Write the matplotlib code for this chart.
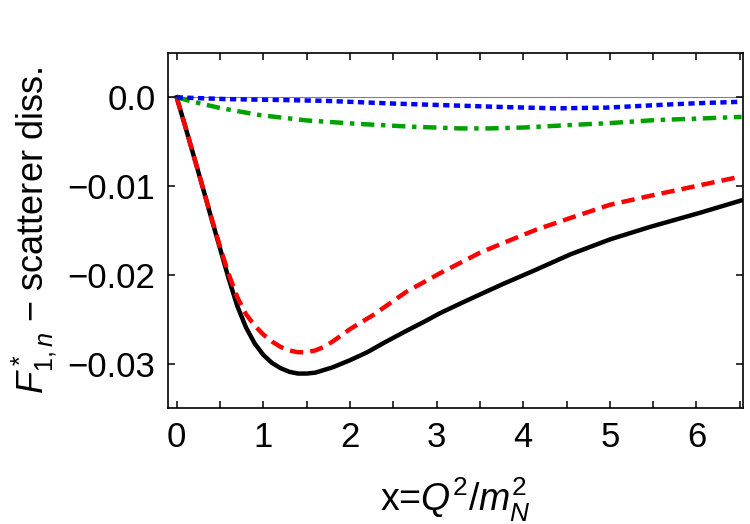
import matplotlib
matplotlib.use("Agg")
import matplotlib.pyplot as plt
from matplotlib.ticker import FixedLocator

# valeurs
x_total = [0, 0.1, 0.2, 0.3, 0.4, 0.5, 0.6, 0.7, 0.8, 0.9, 1.0, 1.1, 1.2, 1.3,
           1.4, 1.5, 1.6, 1.7, 1.8, 1.9, 2.0, 2.2, 2.4, 2.65, 2.85, 3.04, 3.3,
           3.5, 3.77, 4.15, 4.54, 5.0, 5.46, 6.04, 6.52]
y_total = [0, -0.0033, -0.0067, -0.0101, -0.0136, -0.0170, -0.0204, -0.0235,
           -0.0259, -0.0277, -0.0290, -0.0299, -0.0305, -0.0309, -0.0311,
           -0.0311, -0.0310, -0.0307, -0.0304, -0.0300, -0.0296, -0.0287,
           -0.0276, -0.0263, -0.0253, -0.0243, -0.0231, -0.0222, -0.0210,
           -0.0194, -0.0177, -0.0160, -0.0146, -0.0130, -0.0116]

x_red = [0, 0.1, 0.2, 0.3, 0.4, 0.5, 0.6, 0.7, 0.8, 0.9, 1.0, 1.1, 1.2, 1.3,
         1.4, 1.5, 1.6, 1.7, 1.8, 1.9, 2.0, 2.27, 2.65, 3.04, 3.5, 3.77, 4.15,
         4.54, 5.0, 5.46, 6.04, 6.52]
y_red = [0, -0.0033, -0.0067, -0.0101, -0.0135, -0.0168, -0.0199, -0.0225,
         -0.0244, -0.0257, -0.0267, -0.0275, -0.0281, -0.0285, -0.0287,
         -0.0287, -0.0285, -0.0281, -0.0275, -0.0268, -0.0261, -0.0245,
         -0.0219, -0.0198, -0.0175, -0.0164, -0.0149, -0.0136, -0.0121,
         -0.0111, -0.0099, -0.0089]

x_green = [0, 0.19, 0.5, 0.96, 1.5, 2.11, 2.7, 3.27, 3.61, 4.0, 4.58, 5.0,
           5.54, 6.0, 6.52]
y_green = [0, -0.0005, -0.0012, -0.0020, -0.0026, -0.0030, -0.0033, -0.0035,
           -0.0035, -0.0034, -0.0031, -0.0029, -0.00255, -0.0024, -0.0022]

x_blue = [0, 0.57, 1.2, 1.73, 2.5, 3.04, 3.27, 3.8, 4.38, 4.96, 5.35, 5.73,
          6.1, 6.52]
y_blue = [0, -0.0002, -0.0003, -0.0004, -0.0007, -0.00087, -0.00094, -0.0011,
          -0.00124, -0.00116, -0.00097, -0.00078, -0.00063, -0.0005]

x_ticks = [0, 1, 2, 3, 4, 5, 6]
x_minor = [0.5, 1.5, 2.5, 3.5, 4.5, 5.5, 6.5]
y_ticks = [0.0, -0.01, -0.02, -0.03]
y_labels = ["0.0", "\u22120.01", "\u22120.02", "\u22120.03"]

plt.rcParams["font.family"] = ["Liberation Sans", "DejaVu Sans"]
plt.rcParams["mathtext.fontset"] = "custom"
plt.rcParams["mathtext.rm"] = "Liberation Sans"
plt.rcParams["mathtext.it"] = "Liberation Sans:italic"

fig = plt.figure(figsize=(7.5, 5.24), dpi=100)
ax = fig.add_axes([0.224, 0.221, 0.767, 0.678])

ax.axhline(0, color="gray", lw=0.8, zorder=1)
ax.plot(x_total, y_total, color="black", lw=3.2, zorder=3,
        solid_joinstyle="round")
ax.plot(x_red, y_red, color="red", lw=3.2, dashes=(3.0, 1.6), zorder=4)
ax.plot(x_green, y_green, color="#00a000", lw=3.2,
        dashes=(3.0, 1.5, 1.0, 1.5), zorder=4)
ax.plot(x_blue, y_blue, color="blue", lw=3.2, dashes=(1.4, 1.0), zorder=5)

ax.set_xlim(-0.1, 6.54)
ax.set_ylim(-0.035, 0.005)
ax.set_xticks(x_ticks)
ax.xaxis.set_minor_locator(FixedLocator(x_minor))
ax.set_yticks(y_ticks)
ax.set_yticklabels(y_labels)

ax.tick_params(which="both", direction="in", top=True, right=True,
               length=5, width=1.1, labelsize=25, pad=9)
for s in ax.spines.values():
    s.set_linewidth(1.2)

ax.set_xlabel(r"x=$Q^2/m_N^2$", fontsize=27, labelpad=16)
ax.set_ylabel(r"$F^*_{1,n}$ $-$ scatterer diss.", fontsize=26, labelpad=6)

fig.savefig("out.png", dpi=100)
